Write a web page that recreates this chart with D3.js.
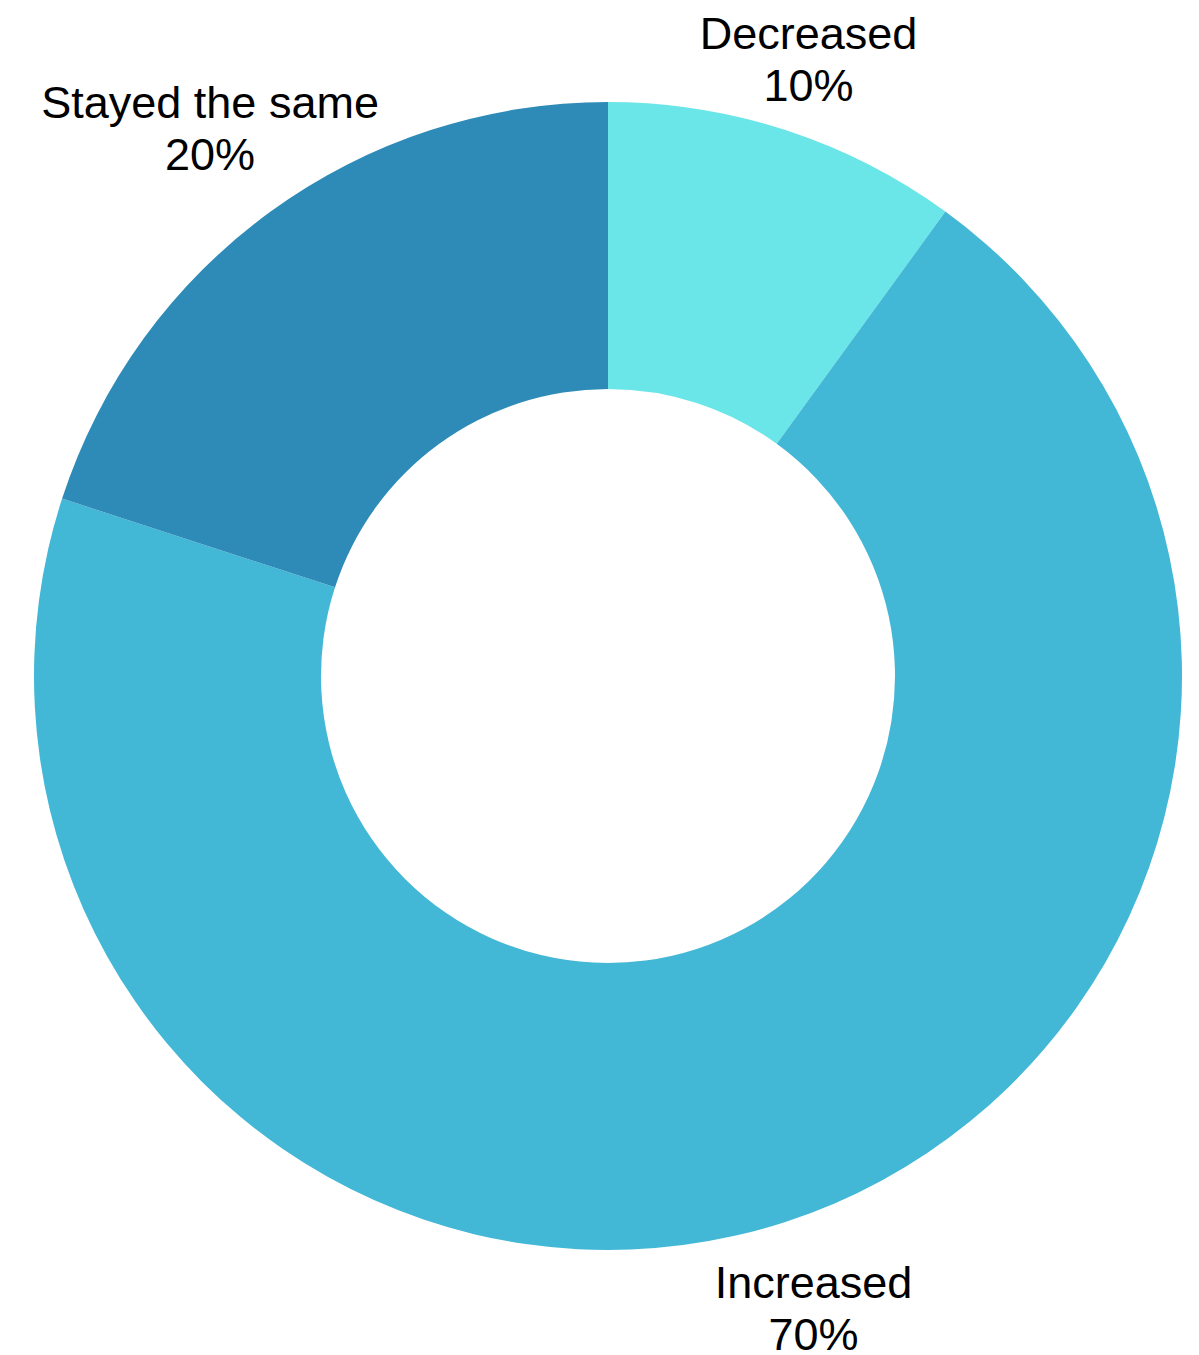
<!DOCTYPE html>
<html>
<head>
<meta charset="utf-8">
<script src="https://cdn.jsdelivr.net/npm/d3@7"></script>
<style>
  html, body { margin: 0; padding: 0; background: #ffffff; }
  svg { display: block; }
</style>
</head>
<body>
<svg id="chart" width="1199" height="1355"></svg>
<script>
// Survey responses: share of each answer
const categories = ["Decreased", "Increased", "Stayed the same"];
const shares = [10, 70, 20];
const percentLabels = ["10%", "70%", "20%"];
const colors = ["#6ae5e8", "#43b7d6", "#2e8bb8"];

const width = 1199, height = 1355;
const cx = 608, cy = 676;
const outerR = 574, innerR = 287;
// distance of each label's centre from the chart centre
const labelRadius = { "Decreased": 649, "Increased": 665, "Stayed the same": 677 };

const svg = d3.select("#chart");
const g = svg.append("g").attr("transform", `translate(${cx},${cy})`);

const data = categories.map((c, i) => ({ name: c, value: shares[i], label: percentLabels[i], color: colors[i] }));

const pie = d3.pie().value(d => d.value).sort(null);
const arc = d3.arc().innerRadius(innerR).outerRadius(outerR);

const arcs = pie(data);

g.selectAll("path.slice")
  .data(arcs)
  .join("path")
  .attr("class", "slice")
  .attr("d", arc)
  .attr("fill", d => d.data.color);

// Two-line labels (name, then percentage) centred outside each slice
const labels = g.selectAll("text.lbl")
  .data(arcs)
  .join("text")
  .attr("class", "lbl")
  .attr("transform", d => {
    const r = labelRadius[d.data.name];
    const pos = d3.arc().innerRadius(r).outerRadius(r).centroid(d);
    return `translate(${pos})`;
  })
  .attr("text-anchor", "middle")
  .attr("font-family", "'Liberation Sans', Arial, sans-serif")
  .attr("font-size", 45)
  .attr("fill", "#000");

labels.append("tspan")
  .attr("x", 0)
  .attr("dy", -10)
  .text(d => d.data.name);

labels.append("tspan")
  .attr("x", 0)
  .attr("dy", 52)
  .text(d => d.data.label);
</script>
</body>
</html>
